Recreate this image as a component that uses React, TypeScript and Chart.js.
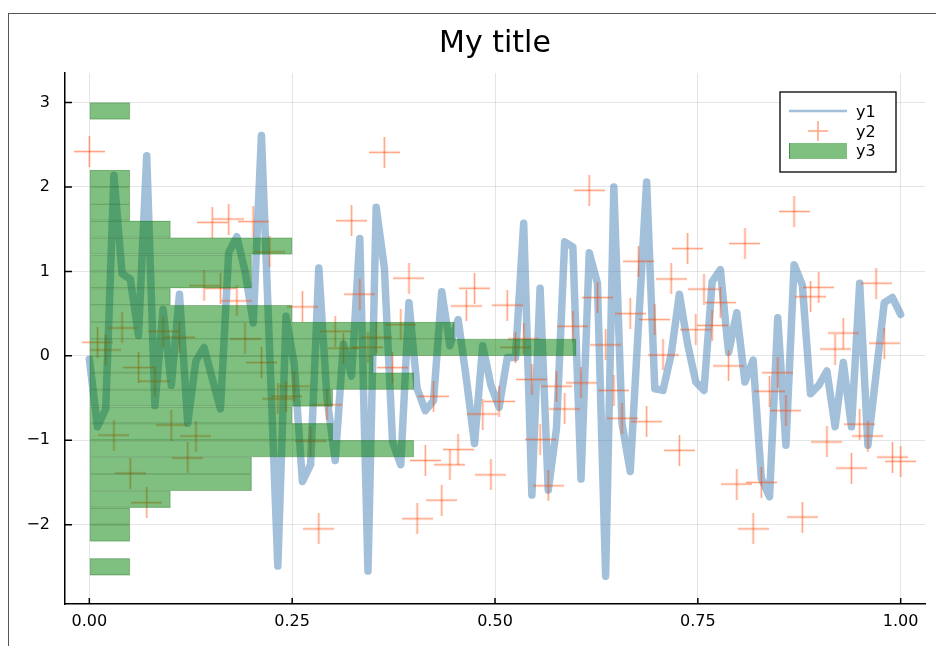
import React, { useEffect, useRef } from "react";
import { Chart, registerables } from "chart.js";

Chart.register(...registerables);

// ---- data ----
const y1Values = [
  -0.04, -0.84, -0.63, 2.14, 0.97, 0.91, 0.24, 2.37, -0.59, 0.55,
  -0.35, 0.73, -0.8, -0.06, 0.1, -0.27, -0.63, 1.22, 1.41, 1.0,
  0.39, 2.61, 0.06, -2.49, 0.47, -0.1, -1.49, -1.29, 1.04, -0.5,
  -1.24, 0.14, -0.24, 1.39, -2.55, 1.76, 1.04, -1.02, -1.29, 0.63,
  -0.39, -0.65, -0.53, 0.76, 0.12, 0.43, -0.27, -1.04, 0.12, -0.35,
  -0.61, -0.02, -0.02, 1.57, -1.65, 0.8, -1.59, -0.86, 1.35, 1.29,
  -1.46, 1.22, 0.86, -2.61, 2.0, -0.8, -1.37, 0.35, 2.06, -0.39,
  -0.41, 0.02, 0.73, 0.14, -0.31, -0.41, 0.88, 1.02, 0.04, 0.51,
  -0.31, -0.05, -1.45, -1.67, 0.45, -1.06, 1.08, 0.84, -0.45, -0.35,
  -0.18, -0.84, -0.08, -0.84, 0.86, -1.06, -0.22, 0.63, 0.69, 0.49,
];

const y2Values = [
  2.42, 0.16, 0.07, -0.94, 0.33, -1.39, -0.14, -1.74, -0.3, 0.29,
  -0.82, 0.22, -1.21, -0.95, 0.83, 1.58, 0.8, 1.62, 0.65, 0.2,
  1.59, -0.08, 1.23, -0.51, -0.48, -0.36, 0.58, -1.01, -2.05, -0.58,
  0.29, 0.09, 1.6, 0.73, 0.1, 0.22, 2.41, -0.14, 0.37, 0.92,
  -1.93, -1.24, -0.48, -1.71, -1.29, -1.11, 0.59, 0.8, -0.69, -1.41,
  -0.54, 0.6, 0.1, 0.2, -0.28, -0.99, -1.54, -0.36, -0.63, 0.35,
  -0.32, 1.96, 0.69, 0.13, -0.41, -0.74, 0.5, 1.12, -0.78, 0.43,
  0.01, 0.91, -1.12, 1.27, 0.31, 0.79, 0.36, 0.63, -0.12, -1.52,
  1.33, -2.05, -1.5, -0.42, -0.2, -0.65, 1.71, -1.91, 0.7, 0.81,
  -1.02, 0.08, 0.27, -1.33, -0.81, -0.95, 0.86, 0.15, -1.2, -1.25,
];

// histogram (y3): bin lower edges (width 0.2) and normalized densities
const binStarts = [
  -2.6, -2.4, -2.2, -2.0, -1.8, -1.6, -1.4, -1.2, -1.0, -0.8, -0.6, -0.4, -0.2, 0.0,
  0.2, 0.4, 0.6, 0.8, 1.0, 1.2, 1.4, 1.6, 1.8, 2.0, 2.2, 2.4, 2.6, 2.8,
];
const binDensity = [
  0.05, 0, 0.05, 0.05, 0.1, 0.2, 0.2, 0.4, 0.3, 0.25, 0.3, 0.4, 0.35, 0.6,
  0.45, 0.25, 0.1, 0.2, 0.2, 0.25, 0.1, 0.05, 0.05, 0.05, 0, 0, 0, 0.05,
];
const binWidth = 0.2;

const seriesLabels = ["y1", "y2", "y3"];
const titleText = "My title";

const xTicks = [0, 0.25, 0.5, 0.75, 1.0];
const xTickLabels = ["0.00", "0.25", "0.50", "0.75", "1.00"];
const yTicks = [-2, -1, 0, 1, 2, 3];
const yTickLabels = ["\u22122", "\u22121", "0", "1", "2", "3"];

// ---- styles ----
const FONT = "DejaVu Sans";
const LINE_COLOR = "rgba(70,130,180,0.5)";
const CROSS_COLOR = "rgba(255,69,0,0.5)";
const BAR_COLOR = "rgba(0,128,0,0.5)";
const BAR_EDGE = "rgba(20,90,20,0.3)";

function makeCross(size: number, width: number) {
  const c = document.createElement("canvas");
  c.width = size;
  c.height = size;
  const g = c.getContext("2d")!;
  const m = size / 2;
  g.strokeStyle = CROSS_COLOR;
  g.lineWidth = width;
  g.beginPath();
  g.moveTo(0, m);
  g.lineTo(size, m);
  g.stroke();
  g.beginPath();
  g.moveTo(m, 0);
  g.lineTo(m, size);
  g.stroke();
  return c;
}

const axisDecor = {
  id: "axisDecor",
  afterDraw(chart: any) {
    const ctx = chart.ctx;
    const ca = chart.chartArea;
    const xs = chart.scales.x;
    const ys = chart.scales.y;
    ctx.save();
    // inward tick marks
    ctx.strokeStyle = "black";
    ctx.lineWidth = 1.5;
    ctx.beginPath();
    xTicks.forEach((v) => {
      const px = xs.getPixelForValue(v);
      ctx.moveTo(px, ca.bottom);
      ctx.lineTo(px, ca.bottom - 6);
    });
    yTicks.forEach((v) => {
      const py = ys.getPixelForValue(v);
      ctx.moveTo(ca.left, py);
      ctx.lineTo(ca.left + 7, py);
    });
    ctx.stroke();

    // legend box
    const bx = ca.right - 145;
    const by = ca.top + 19;
    const bw = 116;
    const bh = 80;
    ctx.fillStyle = "white";
    ctx.fillRect(bx, by, bw, bh);
    ctx.strokeStyle = "black";
    ctx.lineWidth = 1.3;
    ctx.strokeRect(bx, by, bw, bh);

    // y1 line sample
    ctx.strokeStyle = LINE_COLOR;
    ctx.lineWidth = 2.5;
    ctx.beginPath();
    ctx.moveTo(bx + 9, by + 19);
    ctx.lineTo(bx + 67, by + 19);
    ctx.stroke();

    // y2 cross sample
    ctx.strokeStyle = CROSS_COLOR;
    ctx.lineWidth = 1.5;
    const cx = bx + 38;
    const cy = by + 39;
    ctx.beginPath();
    ctx.moveTo(cx - 10, cy);
    ctx.lineTo(cx + 10, cy);
    ctx.moveTo(cx, cy - 10);
    ctx.lineTo(cx, cy + 10);
    ctx.stroke();

    // y3 bar sample
    ctx.fillStyle = BAR_COLOR;
    ctx.fillRect(bx + 9, by + 51, 58, 16);
    ctx.strokeStyle = "rgba(20,90,20,0.5)";
    ctx.lineWidth = 1;
    ctx.beginPath();
    ctx.moveTo(bx + 9.5, by + 51);
    ctx.lineTo(bx + 9.5, by + 67);
    ctx.stroke();

    // legend texts
    ctx.fillStyle = "black";
    ctx.font = `16px "${FONT}"`;
    ctx.textAlign = "left";
    ctx.textBaseline = "middle";
    ctx.fillText(seriesLabels[0], bx + 76, by + 21);
    ctx.fillText(seriesLabels[1], bx + 76, by + 41);
    ctx.fillText(seriesLabels[2], bx + 76, by + 60);
    ctx.restore();
  },
};

export default function App() {
  const canvasRef = useRef<HTMLCanvasElement | null>(null);

  useEffect(() => {
    const canvas = canvasRef.current;
    if (!canvas) return;
    const n = y1Values.length;
    const xAt = (i: number) => i / (n - 1);

    const lineData = y1Values.map((y, i) => ({ x: xAt(i), y }));
    const crossData = y2Values.map((y, i) => ({ x: xAt(i), y }));
    const barData = binStarts.map((s, i) => ({
      y: s + binWidth / 2,
      x: binDensity[i] > 0 ? binDensity[i] : null,
    }));
    const crossImg = makeCross(31, 1.6);

    const chart = new Chart(canvas, {
      type: "line",
      data: {
        datasets: [
          {
            type: "line",
            label: seriesLabels[0],
            data: lineData,
            borderColor: LINE_COLOR,
            borderWidth: 7.5,
            borderJoinStyle: "round",
            borderCapStyle: "round",
            pointRadius: 0,
            tension: 0,
            fill: false,
            order: 2,
          },
          {
            type: "line",
            label: seriesLabels[1],
            data: crossData,
            showLine: false,
            pointStyle: crossImg,
            pointRadius: 1,
            pointBorderWidth: 0,
            borderColor: CROSS_COLOR,
            order: 1,
          },
          {
            type: "bar",
            label: seriesLabels[2],
            indexAxis: "y",
            data: barData as any,
            backgroundColor: BAR_COLOR,
            borderColor: BAR_EDGE,
            borderWidth: 0.6,
            borderSkipped: false,
            barPercentage: 1,
            categoryPercentage: 1,
            order: 0,
          } as any,
        ],
      },
      options: {
        responsive: false,
        animation: false,
        layout: { padding: { left: 0, right: 11, top: 0, bottom: 0 } },
        plugins: {
          legend: { display: false },
          tooltip: { enabled: false },
          title: {
            display: true,
            text: titleText,
            fullSize: false,
            color: "black",
            font: { family: FONT, size: 30, weight: "normal" },
            padding: { top: 12, bottom: 11 },
          },
        },
        scales: {
          x: {
            type: "linear",
            min: -0.03,
            max: 1.03,
            offset: false,
            afterBuildTicks: (s: any) => {
              s.ticks = xTicks.map((v) => ({ value: v }));
            },
            afterFit: (s: any) => {
              s.height = 42;
            },
            ticks: {
              autoSkip: false,
              maxRotation: 0,
              color: "black",
              padding: 8,
              font: { family: FONT, size: 16 },
              callback: (v: any) => {
                const k = xTicks.indexOf(Number(v));
                return k >= 0 ? xTickLabels[k] : "";
              },
            },
            grid: { color: "rgba(0,0,0,0.1)", lineWidth: 1, drawTicks: false, offset: false },
            border: { color: "black", width: 1.5 },
          },
          y: {
            type: "linear",
            min: -2.94,
            max: 3.35,
            offset: false,
            afterBuildTicks: (s: any) => {
              s.ticks = yTicks.map((v) => ({ value: v }));
            },
            afterFit: (s: any) => {
              s.width = 56;
            },
            ticks: {
              autoSkip: false,
              color: "black",
              padding: 15,
              font: { family: FONT, size: 16 },
              callback: (v: any) => {
                const k = yTicks.indexOf(Number(v));
                return k >= 0 ? yTickLabels[k] : "";
              },
            },
            grid: { color: "rgba(0,0,0,0.1)", lineWidth: 1, drawTicks: false, offset: false },
            border: { color: "black", width: 1.5 },
          },
        },
      } as any,
      plugins: [axisDecor],
    });

    return () => chart.destroy();
  }, []);

  return (
    <div
      style={{
        position: "fixed",
        left: 8,
        top: 13,
        width: 928,
        height: 633,
        boxSizing: "border-box",
        borderLeft: "1px solid #555",
        borderTop: "1px solid #555",
        background: "white",
      }}
    >
      <canvas ref={canvasRef} width={927} height={632} style={{ display: "block" }} />
    </div>
  );
}
